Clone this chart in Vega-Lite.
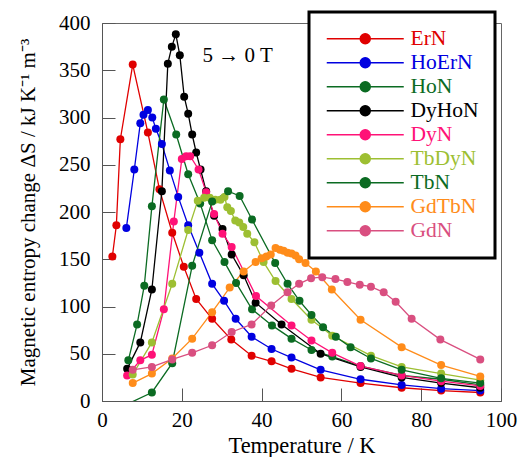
{
  "$schema": "https://vega.github.io/schema/vega-lite/v6.json",
  "autosize": "none",
  "width": 399,
  "height": 378,
  "padding": {"left": 102, "top": 23, "right": 21, "bottom": 56},
  "background": "white",
  "config": {
    "font": "Liberation Serif, Times New Roman, serif",
    "view": {"stroke": "#666", "strokeWidth": 1},
    "axis": {
      "domainColor": "#555", "tickColor": "#555", "grid": false,
      "labelFont": "Liberation Serif, Times New Roman, serif", "titleFont": "Liberation Serif, Times New Roman, serif",
      "labelFontSize": 21, "titleFontSize": 21, "labelColor": "black", "titleColor": "black",
      "titleFontWeight": "normal", "tickSize": -13
    },
    "legend": {"labelFont": "Liberation Serif, Times New Roman, serif"},
    "text": {"font": "Liberation Serif, Times New Roman, serif"}
  },
  "datasets": {
    "curves": [
      {"s":"ErN","T":2.6,"V":153},{"s":"ErN","T":3.6,"V":186},{"s":"ErN","T":4.6,"V":277},{"s":"ErN","T":7.7,"V":356},{"s":"ErN","T":11.5,"V":284},{"s":"ErN","T":14.4,"V":224},{"s":"ErN","T":17.6,"V":178},{"s":"ErN","T":20.5,"V":142},{"s":"ErN","T":23.6,"V":108},{"s":"ErN","T":27.6,"V":87},{"s":"ErN","T":32.4,"V":65},{"s":"ErN","T":37.5,"V":48},{"s":"ErN","T":42.5,"V":42},{"s":"ErN","T":47.5,"V":34},{"s":"ErN","T":54.8,"V":25},{"s":"ErN","T":64.8,"V":19},{"s":"ErN","T":75.1,"V":14},{"s":"ErN","T":85,"V":11},{"s":"ErN","T":94.8,"V":9},
      {"s":"HoErN","T":6.1,"V":183},{"s":"HoErN","T":8.1,"V":245},{"s":"HoErN","T":9.6,"V":294},{"s":"HoErN","T":10.4,"V":303},{"s":"HoErN","T":11.5,"V":308},{"s":"HoErN","T":12.6,"V":300},{"s":"HoErN","T":13.5,"V":288},{"s":"HoErN","T":15,"V":272},{"s":"HoErN","T":17,"V":244},{"s":"HoErN","T":19.1,"V":216},{"s":"HoErN","T":21.6,"V":186},{"s":"HoErN","T":24.4,"V":157},{"s":"HoErN","T":27.6,"V":124},{"s":"HoErN","T":30.6,"V":106},{"s":"HoErN","T":33.5,"V":87},{"s":"HoErN","T":37.5,"V":68},{"s":"HoErN","T":42.5,"V":55},{"s":"HoErN","T":47.5,"V":46},{"s":"HoErN","T":54.8,"V":33},{"s":"HoErN","T":64.8,"V":23},{"s":"HoErN","T":75.1,"V":17},{"s":"HoErN","T":85,"V":13},{"s":"HoErN","T":94.8,"V":11},
      {"s":"HoN","T":6.6,"V":43},{"s":"HoN","T":8.8,"V":81},{"s":"HoN","T":10.6,"V":122},{"s":"HoN","T":12.5,"V":206},{"s":"HoN","T":15.5,"V":319},{"s":"HoN","T":18.6,"V":282},{"s":"HoN","T":21.6,"V":240},{"s":"HoN","T":24.6,"V":209},{"s":"HoN","T":27.6,"V":170},{"s":"HoN","T":30.7,"V":147},{"s":"HoN","T":33.6,"V":125},{"s":"HoN","T":37.6,"V":97},{"s":"HoN","T":42.6,"V":80},{"s":"HoN","T":47.5,"V":66},{"s":"HoN","T":52.5,"V":54},{"s":"HoN","T":57.7,"V":47},{"s":"HoN","T":64.8,"V":37},{"s":"HoN","T":75.1,"V":27},{"s":"HoN","T":85,"V":23},{"s":"HoN","T":94.8,"V":17},
      {"s":"DyHoN","T":6.3,"V":34},{"s":"DyHoN","T":9.6,"V":62},{"s":"DyHoN","T":12.5,"V":118},{"s":"DyHoN","T":15,"V":222},{"s":"DyHoN","T":16.5,"V":357},{"s":"DyHoN","T":17.5,"V":375},{"s":"DyHoN","T":18.5,"V":388},{"s":"DyHoN","T":19.5,"V":366},{"s":"DyHoN","T":20.6,"V":322},{"s":"DyHoN","T":21.6,"V":304},{"s":"DyHoN","T":22.6,"V":282},{"s":"DyHoN","T":23.6,"V":263},{"s":"DyHoN","T":24.7,"V":245},{"s":"DyHoN","T":26.1,"V":222},{"s":"DyHoN","T":28.1,"V":196},{"s":"DyHoN","T":30.2,"V":182},{"s":"DyHoN","T":32.5,"V":155},{"s":"DyHoN","T":35.5,"V":133},{"s":"DyHoN","T":38.5,"V":104},{"s":"DyHoN","T":45,"V":81},{"s":"DyHoN","T":54.8,"V":50},{"s":"DyHoN","T":64.8,"V":36},{"s":"DyHoN","T":75.1,"V":25},{"s":"DyHoN","T":85,"V":19},{"s":"DyHoN","T":94.8,"V":14},
      {"s":"DyN","T":6.3,"V":27},{"s":"DyN","T":9.6,"V":43},{"s":"DyN","T":12.5,"V":49},{"s":"DyN","T":15.5,"V":97},{"s":"DyN","T":18,"V":190},{"s":"DyN","T":20,"V":256},{"s":"DyN","T":21.1,"V":259},{"s":"DyN","T":22.1,"V":259},{"s":"DyN","T":24.2,"V":245},{"s":"DyN","T":26.1,"V":221},{"s":"DyN","T":28.1,"V":198},{"s":"DyN","T":30.2,"V":177},{"s":"DyN","T":32.5,"V":163},{"s":"DyN","T":38.6,"V":111},{"s":"DyN","T":47.5,"V":80},{"s":"DyN","T":52.5,"V":64},{"s":"DyN","T":57.7,"V":51},{"s":"DyN","T":64.8,"V":37},{"s":"DyN","T":75.1,"V":27},{"s":"DyN","T":85,"V":21},{"s":"DyN","T":94.8,"V":16},
      {"s":"TbDyN","T":7.7,"V":28},{"s":"TbDyN","T":12.5,"V":62},{"s":"TbDyN","T":17.6,"V":124},{"s":"TbDyN","T":21.6,"V":181},{"s":"TbDyN","T":24,"V":212},{"s":"TbDyN","T":25.6,"V":215},{"s":"TbDyN","T":27,"V":215},{"s":"TbDyN","T":28.4,"V":213},{"s":"TbDyN","T":29.7,"V":213},{"s":"TbDyN","T":30.7,"V":216},{"s":"TbDyN","T":31.4,"V":205},{"s":"TbDyN","T":32.3,"V":201},{"s":"TbDyN","T":33.4,"V":191},{"s":"TbDyN","T":34.4,"V":189},{"s":"TbDyN","T":35.4,"V":184},{"s":"TbDyN","T":36.4,"V":177},{"s":"TbDyN","T":38.2,"V":168},{"s":"TbDyN","T":40.5,"V":147},{"s":"TbDyN","T":43.5,"V":127},{"s":"TbDyN","T":47.5,"V":108},{"s":"TbDyN","T":52.5,"V":86},{"s":"TbDyN","T":57.7,"V":69},{"s":"TbDyN","T":67.4,"V":48},{"s":"TbDyN","T":75.1,"V":36},{"s":"TbDyN","T":85,"V":29},{"s":"TbDyN","T":94.8,"V":22},
      {"s":"TbN","T":4,"V":-8},{"s":"TbN","T":12.5,"V":9},{"s":"TbN","T":17.6,"V":40},{"s":"TbN","T":22.6,"V":143},{"s":"TbN","T":27.6,"V":211},{"s":"TbN","T":31.6,"V":222},{"s":"TbN","T":34.5,"V":217},{"s":"TbN","T":37.6,"V":192},{"s":"TbN","T":43.4,"V":146},{"s":"TbN","T":46.5,"V":124},{"s":"TbN","T":49.5,"V":106},{"s":"TbN","T":52.5,"V":91},{"s":"TbN","T":55.4,"V":78},{"s":"TbN","T":58.6,"V":68},{"s":"TbN","T":62.3,"V":57},{"s":"TbN","T":67.4,"V":45},{"s":"TbN","T":75.1,"V":33},{"s":"TbN","T":85,"V":24},{"s":"TbN","T":94.8,"V":19},
      {"s":"GdTbN","T":7.7,"V":19},{"s":"GdTbN","T":12.5,"V":29},{"s":"GdTbN","T":17.6,"V":45},{"s":"GdTbN","T":22.6,"V":66},{"s":"GdTbN","T":27.6,"V":94},{"s":"GdTbN","T":32,"V":120},{"s":"GdTbN","T":35.5,"V":137},{"s":"GdTbN","T":38.5,"V":147},{"s":"GdTbN","T":40,"V":151},{"s":"GdTbN","T":41.2,"V":153},{"s":"GdTbN","T":42.3,"V":155},{"s":"GdTbN","T":43.5,"V":162},{"s":"GdTbN","T":44.6,"V":160},{"s":"GdTbN","T":45.5,"V":159},{"s":"GdTbN","T":46.5,"V":157},{"s":"GdTbN","T":47.5,"V":156},{"s":"GdTbN","T":48.5,"V":154},{"s":"GdTbN","T":49.4,"V":150},{"s":"GdTbN","T":51,"V":146},{"s":"GdTbN","T":53.6,"V":137},{"s":"GdTbN","T":57.6,"V":118},{"s":"GdTbN","T":64.8,"V":86},{"s":"GdTbN","T":75.1,"V":57},{"s":"GdTbN","T":85,"V":38},{"s":"GdTbN","T":94.8,"V":26},
      {"s":"GdN","T":7.7,"V":33},{"s":"GdN","T":12.5,"V":36},{"s":"GdN","T":17.6,"V":44},{"s":"GdN","T":22.6,"V":51},{"s":"GdN","T":27.6,"V":59},{"s":"GdN","T":32.5,"V":73},{"s":"GdN","T":37.5,"V":81},{"s":"GdN","T":42.4,"V":101},{"s":"GdN","T":46.5,"V":115},{"s":"GdN","T":49.4,"V":124},{"s":"GdN","T":52.4,"V":130},{"s":"GdN","T":55.2,"V":131},{"s":"GdN","T":58.5,"V":129},{"s":"GdN","T":61.5,"V":126},{"s":"GdN","T":64.6,"V":123},{"s":"GdN","T":67.4,"V":121},{"s":"GdN","T":70.6,"V":115},{"s":"GdN","T":73.6,"V":105},{"s":"GdN","T":77.6,"V":87},{"s":"GdN","T":84.8,"V":65},{"s":"GdN","T":94.8,"V":44}
    ],
    "notes": [{"T": 34, "V": 365, "label": "5 → 0 T"}]
  },
  "layer": [
    {
      "data": {"name": "curves"},
      "mark": {"type": "line", "strokeWidth": 1.3, "clip": true},
      "encoding": {
        "x": {"field": "T", "type": "quantitative", "scale": {"domain": [0, 100], "nice": false},
              "axis": {"values": [0, 20, 40, 60, 80, 100], "title": "Temperature / K", "titlePadding": 4, "titleFontSize": 22.5, "labelPadding": 21, "labelFlush": false,
                       "labelFont": "Liberation Serif", "titleFont": "Liberation Serif"}},
        "y": {"field": "V", "type": "quantitative", "scale": {"domain": [0, 400], "nice": false},
              "axis": {"values": [0, 50, 100, 150, 200, 250, 300, 350, 400], "title": "Magnetic entropy change ΔS / kJ K⁻¹ m⁻³", "titlePadding": 20, "labelPadding": 25,
                       "labelFont": "Liberation Serif", "titleFont": "Liberation Serif"}},
        "color": {
          "field": "s", "type": "nominal",
          "scale": {"domain": ["ErN", "HoErN", "HoN", "DyHoN", "DyN", "TbDyN", "TbN", "GdTbN", "GdN"],
                    "range": ["#e00000", "#0000e0", "#0b6b22", "#000000", "#ff1277", "#9dbf32", "#0b6b22", "#ff8c1a", "#d94f80"]},
          "legend": {
            "title": null, "orient": "none", "legendX": 207, "legendY": -11,
            "symbolType": "M -1.8 0 L 13.6 0 M 6.9 0 A 1 1 0 1 1 4.9 0 A 1 1 0 1 1 6.9 0 Z",
            "symbolSize": 100, "symbolStrokeWidth": 1.5,
            "labelFontSize": 21.5, "labelOffset": 64,
            "rowPadding": 1, "padding": 16, "strokeColor": "black", "fillColor": "white", "cornerRadius": 0,
            "encode": {
              "labels": {"update": {"fill": {"scale": "color", "field": "value"}}},
              "symbols": {"update": {"fill": {"scale": "color", "field": "value"}, "stroke": {"scale": "color", "field": "value"}}},
              "legend": {"update": {"strokeWidth": {"value": 3}}}
            }
          }
        },
        "detail": {"field": "s"}
      }
    },
    {
      "data": {"name": "curves"},
      "mark": {"type": "point", "filled": true, "opacity": 1, "size": 64, "clip": true},
      "encoding": {
        "x": {"field": "T", "type": "quantitative"},
        "y": {"field": "V", "type": "quantitative"},
        "color": {"field": "s", "type": "nominal", "legend": null}
      }
    },
    {
      "data": {"name": "notes"},
      "mark": {"type": "text", "fontSize": 21, "color": "black"},
      "encoding": {
        "x": {"field": "T", "type": "quantitative"},
        "y": {"field": "V", "type": "quantitative"},
        "text": {"field": "label"}
      }
    }
  ]
}
